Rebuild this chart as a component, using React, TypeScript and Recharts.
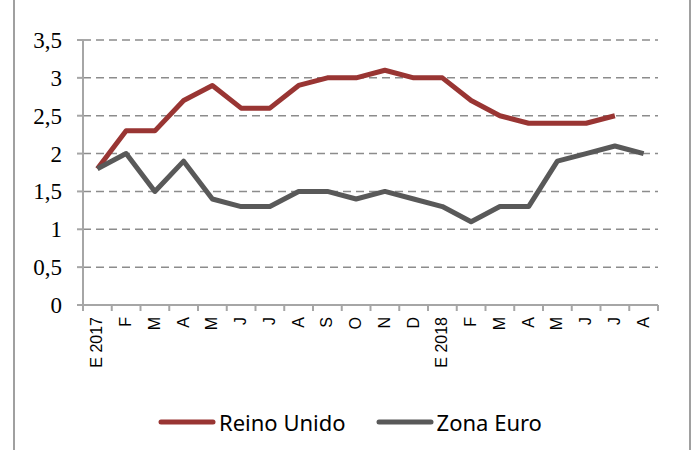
import { CartesianGrid, Legend, Line, LineChart, XAxis, YAxis } from "recharts";

const months = ["E 2017", "F", "M", "A", "M", "J", "J", "A", "S", "O", "N", "D", "E 2018", "F", "M", "A", "M", "J", "J", "A"];
const reinoUnido = [1.8, 2.3, 2.3, 2.7, 2.9, 2.6, 2.6, 2.9, 3.0, 3.0, 3.1, 3.0, 3.0, 2.7, 2.5, 2.4, 2.4, 2.4, 2.5, null];
const zonaEuro = [1.8, 2.0, 1.5, 1.9, 1.4, 1.3, 1.3, 1.5, 1.5, 1.4, 1.5, 1.4, 1.3, 1.1, 1.3, 1.3, 1.9, 2.0, 2.1, 2.0];
const yTicks = [0, 0.5, 1, 1.5, 2, 2.5, 3, 3.5];

const data = months.map((m, i) => ({ mes: m, ru: reinoUnido[i], ze: zonaEuro[i] }));

const W = 693;
const H = 450;
const M = { top: 40, right: 35, left: 0, bottom: 0 };
const Y_W = 83;
const BAND = (W - M.left - M.right - Y_W) / months.length;
const AXIS = "#a6a6a6";
const RED = "#993533";
const GREY = "#595959";

function renderXTick(props: any) {
  const { x, y, payload, index } = props;
  const last = index === months.length - 1;
  return (
    <g key={`xt-${index}`}>
      <line x1={x - BAND / 2} x2={x - BAND / 2} y1={y} y2={y + 6} stroke={AXIS} strokeWidth={2} />
      {last && <line x1={x + BAND / 2} x2={x + BAND / 2} y1={y} y2={y + 6} stroke={AXIS} strokeWidth={2} />}
      <text
        transform={`translate(${x + 5},${y + 12}) rotate(-90)`}
        textAnchor="end"
        fontFamily="Liberation Sans"
        fontSize={16}
        fill="#000"
      >
        {payload.value}
      </text>
    </g>
  );
}

function renderYTick(props: any) {
  const { x, y, payload, index } = props;
  return (
    <text
      key={`yt-${index}`}
      x={x}
      y={y + 8}
      textAnchor="end"
      fontFamily="Liberation Serif"
      fontSize={23}
      fill="#000"
    >
      {String(payload.value).replace(".", ",")}
    </text>
  );
}

function LegendBox() {
  const items = [
    { name: "Reino Unido", color: RED },
    { name: "Zona Euro", color: GREY },
  ];
  return (
    <div style={{ display: "flex", alignItems: "center", paddingLeft: 158, height: 56 }}>
      {items.map((it) => (
        <div key={it.name} style={{ display: "flex", alignItems: "center", marginRight: 30 }}>
          <svg width={58} height={8} style={{ marginRight: 3 }}>
            <line x1={3} x2={55} y1={4} y2={4} stroke={it.color} strokeWidth={5} strokeLinecap="round" />
          </svg>
          <span style={{ fontFamily: "'Noto Sans', sans-serif", fontSize: 22, color: "#000" }}>{it.name}</span>
        </div>
      ))}
    </div>
  );
}

export default function App() {
  return (
    <div style={{ position: "absolute", left: 0, top: 0, width: W, height: H, background: "#fff" }}>
      <div
        style={{
          position: "absolute",
          left: 13,
          top: 0,
          width: 674,
          height: H,
          borderLeft: "2px solid #a0a0a0",
          borderRight: "2px solid #a0a0a0",
        }}
      />
      <LineChart width={W} height={H} data={data} margin={M}>
        <CartesianGrid vertical={false} strokeDasharray="8 5" stroke="#8c8c8c" strokeWidth={1.5} />
        <XAxis
          dataKey="mes"
          interval={0}
          height={89}
          padding={{ left: BAND / 2, right: BAND / 2 }}
          tick={renderXTick}
          tickLine={false}
          tickSize={0}
          tickMargin={0}
          axisLine={{ stroke: AXIS, strokeWidth: 2 }}
        />
        <YAxis
          width={Y_W}
          domain={[0, 3.5]}
          ticks={yTicks}
          interval={0}
          tick={renderYTick}
          tickSize={6}
          tickMargin={15}
          tickLine={{ stroke: AXIS, strokeWidth: 2 }}
          axisLine={{ stroke: AXIS, strokeWidth: 2 }}
        />
        <Legend verticalAlign="bottom" height={56} content={() => <LegendBox />} />
        <Line type="linear" dataKey="ru" name="Reino Unido" stroke={RED} strokeWidth={5} dot={false} strokeLinejoin="round" isAnimationActive={false} />
        <Line type="linear" dataKey="ze" name="Zona Euro" stroke={GREY} strokeWidth={5} dot={false} strokeLinejoin="round" isAnimationActive={false} />
      </LineChart>
    </div>
  );
}
